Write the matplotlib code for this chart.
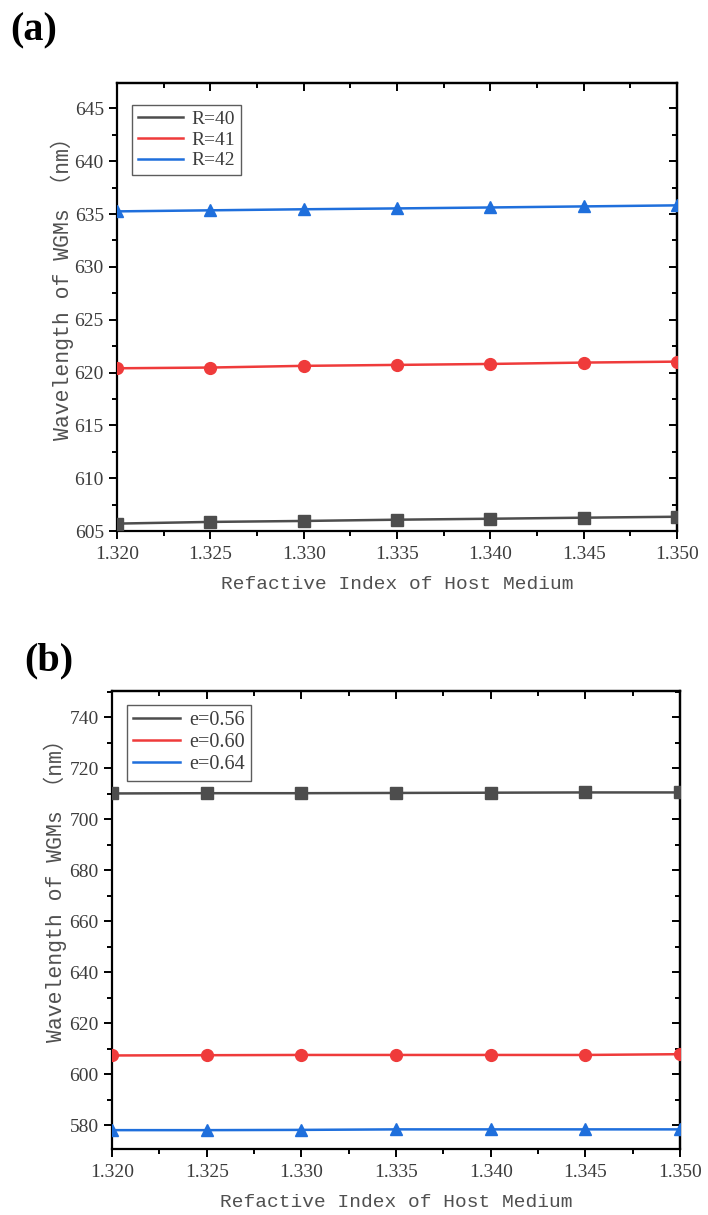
import matplotlib
matplotlib.use("Agg")
import matplotlib.pyplot as plt
from matplotlib.ticker import MultipleLocator, FormatStrFormatter
import numpy as np

plt.rcParams['font.family'] = ['Liberation Serif', 'DejaVu Serif']

# data
n_host = [1.320, 1.325, 1.330, 1.335, 1.340, 1.345, 1.350]

labels_a = ['R=40', 'R=41', 'R=42']
r40 = [605.70, 605.86, 605.95, 606.07, 606.16, 606.26, 606.35]
r41 = [620.40, 620.47, 620.63, 620.72, 620.81, 620.94, 621.03]
r42 = [635.25, 635.35, 635.45, 635.53, 635.62, 635.72, 635.82]

labels_b = ['e=0.56', 'e=0.60', 'e=0.64']
e56 = [710.1, 710.2, 710.2, 710.3, 710.4, 710.5, 710.5]
e60 = [607.3, 607.4, 607.5, 607.5, 607.5, 607.5, 607.8]
e64 = [578.0, 578.0, 578.1, 578.3, 578.3, 578.3, 578.3]

colors = ['#4d4d4d', '#ef3b3b', '#1f6fdc']
markers = ['s', 'o', '^']
tick_col = '#3c3c3c'
label_col = '#505050'
mono = ['Liberation Mono', 'Noto Sans CJK SC', 'DejaVu Sans Mono']


def style_axes(ax, ymaj, ymin, ylim, ylab_x, ylab_y):
    ax.set_xlim(1.320, 1.350)
    ax.set_ylim(*ylim)
    ax.xaxis.set_major_locator(MultipleLocator(0.005))
    ax.xaxis.set_minor_locator(MultipleLocator(0.0025))
    ax.xaxis.set_major_formatter(FormatStrFormatter('%.3f'))
    ax.yaxis.set_major_locator(MultipleLocator(ymaj))
    ax.yaxis.set_minor_locator(MultipleLocator(ymin))
    for s in ax.spines.values():
        s.set_linewidth(1.6)
    ax.tick_params(which='major', direction='out', length=6, width=1.4,
                   labelsize=14, labelcolor=tick_col)
    ax.tick_params(axis='x', which='major', pad=5)
    ax.tick_params(which='minor', direction='out', length=3.5, width=1.4)
    # mirrored ticks pointing inward on top and right
    top = ax.secondary_xaxis('top')
    top.xaxis.set_major_locator(MultipleLocator(0.005))
    top.xaxis.set_minor_locator(MultipleLocator(0.0025))
    top.tick_params(which='major', direction='in', length=6, width=1.4, labeltop=False)
    top.tick_params(which='minor', direction='in', length=3.5, width=1.4)
    right = ax.secondary_yaxis('right')
    right.yaxis.set_major_locator(MultipleLocator(ymaj))
    right.yaxis.set_minor_locator(MultipleLocator(ymin))
    right.tick_params(which='major', direction='in', length=6, width=1.4, labelright=False)
    right.tick_params(which='minor', direction='in', length=3.5, width=1.4)
    for sec in (top, right):
        for s in sec.spines.values():
            s.set_linewidth(1.6)
    ax.set_xlabel('Refactive Index of Host Medium', fontsize=14, family=mono,
                  color=label_col, labelpad=9)
    ax.set_ylabel('Wavelength of WGMs （nm）', fontsize=15.5, family=mono,
                  color=label_col)
    ax.yaxis.set_label_coords(ylab_x, ylab_y)


def draw(ax, series, labels, anchor_y, fs):
    handles = []
    for ys, lab, c, m in zip(series, labels, colors, markers):
        ax.plot(n_host, ys, color=c, lw=1.8, marker=m, markersize=8.5, zorder=3)
        h, = ax.plot([], [], color=c, lw=1.8, label=lab)
        handles.append(h)
    leg = ax.legend(handles=handles, loc='upper left', bbox_to_anchor=(0.02, anchor_y),
                    fontsize=fs, frameon=True, fancybox=False, handlelength=2.3,
                    handletextpad=0.45, borderpad=0.3, labelspacing=0.15,
                    borderaxespad=0.2)
    leg.get_frame().set_edgecolor('#333333')
    leg.get_frame().set_linewidth(1.0)
    for t in leg.get_texts():
        t.set_color(tick_col)


fig = plt.figure(figsize=(7.08, 12.15), dpi=100)
W, H = 708, 1215

ax1 = fig.add_axes([117 / W, 1 - 531 / H, 560 / W, 448 / H])
draw(ax1, [r40, r41, r42], labels_a, 0.96, 14)
style_axes(ax1, 5, 2.5, (605, 647.4), -0.077, 0.553)

ax2 = fig.add_axes([112 / W, 1 - 1149 / H, 568 / W, 458 / H])
draw(ax2, [e56, e60, e64], labels_b, 0.978, 14.5)
style_axes(ax2, 20, 10, (570.6, 750.3), -0.08, 0.576)

fig.text(10 / W, 1 - 40 / H, '(a)', fontsize=29, fontweight='bold', color='black')
fig.text(24 / W, 1 - 670 / H, '(b)', fontsize=29, fontweight='bold', color='black')

fig.savefig('out.png', dpi=100)
